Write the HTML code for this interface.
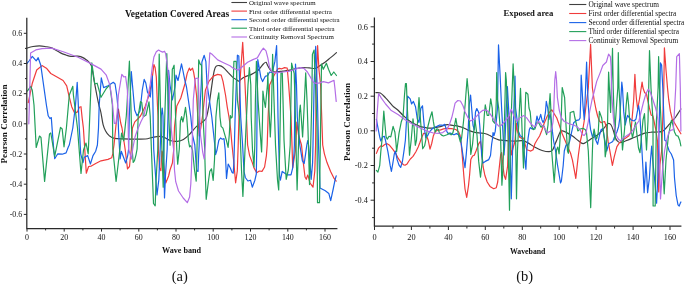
<!DOCTYPE html>
<html><head><meta charset="utf-8"><title>Pearson correlation</title>
<style>
html,body{margin:0;padding:0;background:#fff;}
svg{display:block}
text{font-family:"Liberation Serif",serif;fill:#111}
.tk{font-size:7.5px}
.lg{fill:#111}
.b{font-weight:bold}
</style></head><body>
<svg width="685" height="284" viewBox="0 0 685 284">
<rect width="685" height="284" fill="#fff"/>
<clipPath id="cl"><rect x="27" y="10" width="316" height="218"/></clipPath>
<clipPath id="cr"><rect x="374.5" y="10" width="311" height="216"/></clipPath>
<g clip-path="url(#cl)">
<path d="M27.0,48.1 C28.0,47.8 30.9,46.9 33.0,46.5 C35.1,46.1 37.4,45.8 39.4,45.8 C41.4,45.8 43.0,46.1 45.0,46.5 C47.0,46.9 49.1,46.8 51.7,47.9 C54.3,49.0 58.1,51.7 60.5,52.9 C62.9,54.1 64.2,54.4 66.0,55.0 C67.8,55.6 69.3,56.2 71.0,56.4 C72.7,56.6 74.4,56.2 76.0,56.2 C77.6,56.2 78.9,55.9 80.7,56.6 C82.5,57.3 85.1,58.8 86.9,60.3 C88.7,61.8 90.1,62.4 91.3,65.6 C92.5,68.8 93.0,74.7 93.9,79.6 C94.8,84.5 96.0,90.8 96.8,95.0 C97.6,99.2 98.2,102.1 98.9,105.0 C99.6,107.9 100.2,109.2 100.9,112.5 C101.6,115.8 102.3,121.6 103.1,124.7 C103.9,127.8 104.5,129.1 105.6,131.0 C106.6,132.9 108.0,134.7 109.4,135.9 C110.9,137.1 111.8,137.9 114.3,138.4 C116.8,138.9 120.8,138.8 124.2,138.9 C127.7,139.0 131.4,139.1 135.0,139.1 C138.6,139.1 142.7,139.3 145.6,139.0 C148.5,138.7 150.4,137.7 152.6,137.3 C154.8,136.9 156.9,136.4 158.8,136.4 C160.7,136.4 162.1,136.6 164.0,137.3 C165.9,138.0 168.0,139.8 170.2,140.5 C172.4,141.2 175.0,141.6 177.2,141.4 C179.4,141.2 181.3,140.8 183.4,139.6 C185.5,138.4 187.3,136.5 189.5,134.3 C191.7,132.1 193.9,128.9 196.6,126.4 C199.2,123.9 203.5,122.0 205.4,119.4 C207.3,116.8 207.3,113.8 208.0,110.6 C208.7,107.4 209.1,104.9 209.8,100.0 C210.5,95.1 211.7,86.3 212.4,81.4 C213.1,76.5 213.6,73.3 214.2,70.8 C214.8,68.3 215.1,67.3 216.0,66.4 C216.9,65.5 218.3,65.4 219.5,65.6 C220.7,65.8 221.5,66.1 223.0,67.3 C224.5,68.5 226.6,70.8 228.3,72.6 C230.1,74.4 232.1,76.7 233.5,77.9 C234.9,79.1 236.1,79.4 237.0,79.9 C237.9,80.4 237.6,81.5 238.8,81.0 C240.0,80.5 242.0,78.3 244.0,77.2 C246.0,76.1 248.6,75.8 251.0,74.6 C253.4,73.4 256.1,72.0 258.2,70.2 C260.3,68.4 262.1,65.3 263.4,64.0 C264.7,62.7 265.3,62.0 266.0,62.3 C266.7,62.6 266.9,64.3 267.8,65.8 C268.7,67.3 270.1,70.1 271.4,71.1 C272.7,72.1 273.9,72.0 275.8,72.0 C277.7,72.0 280.5,71.4 282.8,71.1 C285.1,70.8 287.5,70.7 289.8,70.2 C292.1,69.8 294.8,68.8 296.9,68.4 C298.9,68.0 300.1,67.7 302.1,67.6 C304.2,67.5 307.0,67.8 309.2,67.9 C311.4,68.0 313.6,68.8 315.3,68.4 C317.1,68.1 318.1,66.8 319.7,65.8 C321.3,64.8 323.2,63.6 325.0,62.3 C326.8,61.0 328.4,59.5 330.3,57.9 C332.2,56.3 335.5,53.5 336.5,52.6" fill="none" stroke="#404040" stroke-width="1.2" stroke-linejoin="round" stroke-linecap="round"/>
<path d="M28.3,102.6 L32.3,83.2 L36.7,70.0 L42.0,65.6 L46.4,68.2 L50.8,73.5 L57.0,77.0 L63.1,80.5 L66.7,85.8 L68.8,95.0 L71.7,106.7 L74.6,113.1 L77.5,111.9 L79.3,107.3 L81.0,106.7 L82.2,118.4 L83.4,128.0 L84.8,150.0 L86.3,173.2 L88.6,166.5 L91.3,166.1 L95.7,163.5 L101.0,160.8 L108.0,159.4 L111.7,157.8 L112.8,153.7 L113.4,149.0 L114.0,145.0 L116.0,125.0 L118.4,109.0 L120.7,123.0 L122.0,128.0 L125.1,149.0 L127.5,168.9 L129.5,166.5 L130.5,156.0 L131.3,149.0 L132.4,128.0 L134.8,121.9 L137.7,119.0 L140.5,116.0 L145.2,106.4 L148.7,96.0 L151.6,83.0 L153.9,64.6 L155.1,67.5 L156.3,77.0 L157.4,104.0 L158.0,116.0 L158.4,149.0 L159.5,168.0 L160.9,170.6 L161.9,151.0 L162.5,152.5 L164.0,167.0 L165.8,183.0 L168.6,176.0 L170.0,170.0 L172.4,163.0 L173.8,149.0 L174.5,127.0 L175.6,117.0 L176.8,106.0 L180.8,98.0 L184.9,84.0 L187.2,73.4 L189.3,68.1 L190.5,70.4 L192.5,68.1 L193.6,72.2 L194.8,79.2 L196.6,96.0 L197.8,117.0 L199.3,136.0 L200.8,128.0 L202.4,117.0 L205.4,90.2 L208.9,81.4 L213.3,76.1 L217.7,74.4 L221.2,75.2 L223.0,81.4 L225.6,95.5 L227.3,107.4 L229.0,117.0 L230.5,128.0 L232.0,145.0 L233.8,162.0 L235.6,182.8 L237.3,171.0 L238.2,145.0 L239.0,117.0 L239.8,84.0 L242.7,42.4 L245.0,84.0 L246.5,117.0 L247.6,145.0 L249.6,155.6 L252.3,162.6 L254.0,167.9 L256.7,172.8 L259.3,171.0 L262.0,171.4 L264.6,167.0 L266.4,155.6 L267.2,145.0 L268.1,117.0 L269.6,85.0 L274.0,75.5 L277.5,69.3 L279.3,68.4 L281.9,68.8 L284.5,67.6 L287.2,68.0 L288.6,84.0 L291.0,117.0 L292.0,145.0 L292.7,167.9 L295.5,150.0 L296.9,122.0 L298.5,135.0 L301.5,145.0 L303.3,162.6 L305.0,177.0 L306.3,179.3 L307.7,175.0 L308.6,177.5 L310.0,183.0 L313.0,187.2 L314.8,171.0 L315.6,145.0 L316.2,85.0 L317.6,45.6 L319.0,70.0 L320.6,85.0 L322.7,145.0 L324.4,153.8 L327.0,162.6 L330.6,171.4 L334.1,178.4 L336.2,181.1" fill="none" stroke="#f03c3c" stroke-width="1.2" stroke-linejoin="round" stroke-linecap="round"/>
<path d="M27.0,63.5 L29.0,61.0 L32.3,56.4 L36.2,60.8 L38.2,57.7 L40.8,65.3 L46.4,105.0 L48.2,115.8 L49.9,118.5 L51.3,117.6 L52.6,135.2 L53.8,150.0 L54.7,158.7 L57.8,153.8 L62.2,154.2 L66.1,152.9 L68.4,146.8 L69.3,145.0 L72.8,128.0 L75.5,105.0 L77.2,82.3 L78.1,100.0 L79.3,128.0 L80.7,153.8 L83.0,162.6 L84.2,157.3 L87.7,155.6 L90.4,164.0 L93.0,155.6 L95.7,151.2 L97.4,145.0 L98.5,128.0 L99.2,105.0 L101.3,77.9 L103.6,87.6 L108.0,85.8 L113.3,82.3 L115.1,84.0 L116.8,95.5 L117.7,105.0 L118.5,130.0 L120.1,158.9 L121.3,151.3 L123.8,158.0 L125.7,163.0 L127.7,155.6 L128.6,149.0 L129.3,116.0 L131.3,71.6 L132.3,83.0 L134.7,110.0 L137.0,115.7 L140.0,111.0 L142.3,90.0 L144.2,79.4 L145.8,83.0 L147.5,92.3 L150.3,97.0 L152.3,76.0 L152.9,103.0 L153.7,149.0 L156.0,182.0 L157.0,195.0 L158.8,180.0 L160.2,149.0 L161.3,116.0 L162.2,108.0 L163.0,116.0 L163.6,149.0 L164.5,198.0 L165.5,175.0 L167.2,149.0 L168.0,116.0 L168.6,70.4 L170.0,85.0 L171.3,93.0 L172.4,100.0 L173.8,93.0 L175.0,87.0 L176.0,75.2 L178.0,80.5 L179.5,73.7 L181.5,63.8 L183.0,71.0 L184.7,79.6 L186.5,87.0 L190.8,117.0 L192.5,135.0 L194.8,145.0 L196.6,170.5 L198.0,171.4 L198.7,154.0 L199.2,145.0 L199.5,117.0 L201.3,84.0 L201.9,62.0 L204.2,55.3 L205.9,61.7 L207.0,84.0 L209.6,101.5 L211.8,117.0 L215.3,150.0 L215.6,154.7 L217.0,150.0 L218.8,140.4 L220.5,138.0 L222.3,139.2 L224.0,138.6 L225.2,150.0 L226.5,178.4 L228.2,164.0 L230.3,168.0 L232.0,172.3 L233.2,173.2 L233.9,162.6 L234.4,145.0 L235.1,117.0 L236.3,84.0 L237.4,55.2 L238.8,56.0 L239.7,85.0 L240.7,117.0 L242.6,145.0 L244.0,171.4 L245.3,177.5 L247.9,181.0 L250.5,180.2 L252.3,187.2 L254.9,180.2 L256.3,174.0 L256.8,145.0 L257.0,117.0 L257.8,59.6 L260.8,77.2 L262.6,81.6 L265.2,76.4 L267.8,75.5 L269.6,72.0 L272.2,72.8 L274.9,61.4 L276.6,45.6 L277.5,84.0 L278.0,117.0 L278.7,145.0 L279.6,176.0 L280.4,180.2 L282.2,171.4 L284.8,173.2 L287.5,174.9 L291.0,174.9 L292.7,167.9 L294.0,153.8 L294.4,145.0 L294.8,100.0 L295.5,64.0 L296.5,85.0 L297.3,117.0 L299.8,145.0 L302.4,160.8 L304.2,163.5 L305.6,153.8 L306.8,145.0 L307.7,140.5 L308.6,145.0 L309.8,160.0 L311.2,179.3 L312.6,162.6 L313.0,145.0 L314.1,85.0 L315.7,46.4 L317.1,85.0 L318.5,145.0 L320.0,188.0 L325.3,190.8 L328.8,193.4 L330.7,200.6 L333.2,189.0 L335.0,180.2 L336.2,175.8" fill="none" stroke="#1a62e8" stroke-width="1.2" stroke-linejoin="round" stroke-linecap="round"/>
<path d="M27.5,91.0 L30.6,86.3 L32.3,90.2 L34.0,105.0 L36.2,147.5 L39.5,136.0 L41.0,137.5 L44.6,181.4 L49.5,134.0 L50.8,133.0 L54.7,156.4 L60.5,127.3 L62.2,129.0 L64.0,146.8 L66.4,128.0 L69.3,95.0 L72.8,86.3 L73.4,95.0 L77.5,128.0 L81.0,173.5 L83.5,150.0 L86.0,143.0 L88.2,153.8 L89.3,128.0 L90.6,95.0 L91.8,62.9 L94.8,84.0 L97.1,83.2 L101.0,97.3 L106.3,88.5 L109.8,84.9 L112.4,105.0 L112.8,149.0 L116.1,181.5 L119.9,149.0 L121.6,133.0 L123.7,140.8 L126.3,116.0 L127.0,105.0 L129.4,61.2 L130.9,105.0 L132.1,149.0 L133.2,162.5 L134.5,160.7 L136.0,154.8 L137.1,149.0 L138.2,116.0 L140.5,101.7 L141.7,102.3 L143.4,116.7 L146.0,115.0 L149.0,101.8 L150.2,116.0 L151.4,149.0 L153.5,203.5 L155.2,205.8 L156.0,182.0 L157.8,149.0 L159.2,54.1 L160.7,116.0 L161.9,149.0 L163.2,187.2 L164.0,149.0 L164.8,116.0 L166.8,53.5 L168.0,100.0 L170.1,145.2 L171.2,116.0 L172.3,69.3 L173.2,67.5 L174.1,65.2 L175.6,117.0 L176.8,150.0 L177.7,164.2 L179.3,149.0 L180.4,121.0 L181.6,116.7 L182.9,122.0 L184.0,116.7 L185.5,107.4 L186.7,117.0 L188.4,140.4 L189.6,146.8 L190.8,145.6 L192.5,150.0 L194.5,170.0 L196.2,181.1 L197.0,149.0 L197.8,117.0 L198.7,59.9 L200.1,64.0 L201.5,65.2 L202.3,84.0 L203.0,117.0 L204.5,145.0 L205.5,180.0 L206.2,199.3 L208.6,180.0 L209.8,171.4 L211.5,168.8 L213.2,180.3 L214.5,160.0 L215.9,117.0 L217.5,100.0 L218.8,92.8 L220.0,117.0 L221.1,126.3 L222.9,128.1 L226.4,140.4 L228.1,147.4 L229.3,134.5 L230.3,115.5 L231.3,118.0 L232.2,117.0 L233.2,84.0 L233.9,61.4 L236.2,61.4 L237.4,100.0 L239.5,117.0 L241.5,170.0 L242.9,196.4 L245.0,150.0 L246.5,117.0 L248.0,85.0 L249.4,67.6 L250.8,85.0 L251.2,117.0 L252.5,150.0 L254.0,167.0 L254.8,145.0 L255.4,100.0 L256.4,61.4 L258.0,100.0 L260.0,130.0 L261.6,152.0 L262.5,120.0 L262.9,91.0 L264.3,101.5 L265.4,107.4 L266.4,95.7 L267.5,84.0 L267.8,72.8 L269.0,110.0 L270.3,137.0 L271.5,112.0 L272.6,54.4 L274.0,100.0 L275.5,145.0 L277.5,180.0 L278.7,189.9 L279.8,145.0 L280.5,100.0 L281.0,72.8 L282.3,72.8 L283.0,100.0 L284.0,140.0 L286.2,179.3 L288.3,170.0 L290.2,145.0 L290.9,100.0 L291.6,63.2 L294.2,73.7 L295.0,100.0 L296.0,145.0 L297.1,189.9 L298.5,145.0 L299.5,112.0 L300.3,105.0 L301.3,118.0 L302.6,137.0 L304.0,110.0 L305.7,72.8 L307.0,100.0 L308.0,130.0 L309.5,184.6 L310.7,145.0 L311.8,100.0 L312.4,54.4 L314.1,50.0 L315.5,85.0 L317.0,128.0 L317.5,202.7 L319.5,202.7 L320.3,145.0 L321.5,64.0 L323.3,69.3 L326.4,63.2 L328.5,69.3 L331.2,75.5 L333.8,72.0 L336.5,75.5" fill="none" stroke="#22a05a" stroke-width="1.2" stroke-linejoin="round" stroke-linecap="round"/>
<path d="M28.8,123.8 L29.5,100.0 L30.6,53.0 L35.8,49.9 L42.0,48.6 L51.7,48.1 L64.0,52.0 L78.1,57.3 L90.4,63.4 L101.0,69.1 L106.3,75.2 L109.8,84.9 L111.4,95.0 L112.4,102.5 L114.3,123.3 L116.0,123.3 L117.2,112.0 L118.4,95.0 L121.8,74.4 L123.9,77.0 L125.6,76.5 L127.4,90.2 L128.0,116.0 L128.6,149.0 L131.5,159.0 L132.7,149.0 L135.0,137.0 L137.4,130.0 L140.9,121.8 L143.8,116.0 L147.5,99.0 L150.4,83.0 L152.2,67.5 L153.9,57.0 L156.3,51.8 L158.6,50.0 L161.0,51.4 L162.7,52.1 L164.5,51.2 L165.6,53.5 L166.8,61.7 L168.0,71.0 L169.1,83.0 L170.0,116.0 L172.3,139.0 L173.6,149.0 L174.5,170.0 L175.7,181.7 L178.5,191.0 L183.2,198.0 L187.3,202.7 L189.6,197.0 L190.8,184.0 L191.4,170.0 L192.2,145.0 L193.3,100.0 L195.2,78.6 L198.3,78.0 L199.0,100.0 L200.5,135.0 L202.7,152.0 L204.2,159.0 L205.4,145.0 L206.5,100.0 L208.8,70.0 L209.8,52.8 L212.4,54.6 L217.7,59.9 L223.0,62.5 L230.0,65.8 L233.5,68.4 L238.0,70.2 L242.3,66.7 L247.6,62.3 L252.9,59.6 L257.3,57.9 L260.8,51.7 L263.4,48.2 L266.0,50.8 L267.8,57.9 L269.6,67.6 L272.2,72.0 L275.8,72.8 L282.8,72.0 L289.8,71.1 L295.1,69.3 L300.4,67.6 L303.9,68.4 L307.4,72.0 L311.0,78.1 L313.6,82.5 L316.2,83.4 L319.7,82.9 L323.3,81.6 L328.5,82.9 L334.0,80.3 L335.0,89.0 L336.2,101.4" fill="none" stroke="#b46ee6" stroke-width="1.2" stroke-linejoin="round" stroke-linecap="round"/>
</g>
<g clip-path="url(#cr)">
<path d="M375.9,92.6 C376.6,92.7 378.7,92.2 380.3,93.1 C381.9,94.0 383.6,95.8 385.6,97.9 C387.7,100.0 390.6,103.8 392.6,105.8 C394.6,107.8 396.1,108.4 397.8,110.0 C399.5,111.6 401.1,113.5 403.0,115.3 C404.9,117.0 406.9,119.0 408.9,120.5 C410.8,122.0 412.8,123.0 414.7,124.0 C416.6,125.0 418.7,126.0 420.6,126.6 C422.6,127.2 424.6,127.5 426.4,127.8 C428.1,128.1 429.6,128.2 431.1,128.1 C432.7,128.0 434.1,127.8 435.7,127.5 C437.2,127.2 438.9,127.0 440.4,126.6 C441.9,126.2 443.4,125.4 444.7,125.1 C446.0,124.8 446.8,124.5 448.2,124.6 C449.6,124.6 451.1,125.1 452.8,125.4 C454.6,125.7 456.9,125.9 458.7,126.3 C460.5,126.7 461.8,127.2 463.4,127.8 C464.9,128.4 466.2,129.4 468.0,130.1 C469.8,130.8 471.9,131.6 473.9,132.1 C475.8,132.6 477.9,132.8 479.7,133.0 C481.5,133.2 483.1,133.1 484.7,133.5 C486.3,133.9 487.8,134.4 489.3,135.2 C490.9,135.9 492.4,137.2 494.0,138.0 C495.6,138.8 497.1,139.4 498.7,139.8 C500.2,140.2 500.8,140.1 503.3,140.3 C505.8,140.5 510.7,141.1 513.9,141.2 C517.1,141.2 520.4,140.3 522.7,140.6 C525.1,140.9 526.0,141.8 528.0,142.9 C530.0,144.0 532.6,146.0 535.0,147.3 C537.4,148.6 539.8,149.8 542.1,150.5 C544.5,151.2 547.4,151.8 549.1,151.7 C550.9,151.6 551.5,151.4 552.6,150.0 C553.7,148.6 554.6,145.1 555.5,143.0 C556.4,140.9 557.0,139.4 557.8,137.5 C558.6,135.6 559.5,132.9 560.3,131.8 C561.1,130.7 561.5,130.7 562.6,130.8 C563.7,130.9 565.1,131.7 566.7,132.6 C568.4,133.5 570.5,134.7 572.5,136.1 C574.5,137.5 576.6,139.5 578.4,140.8 C580.1,142.1 581.6,143.5 583.0,143.7 C584.4,143.9 584.9,142.9 586.5,141.9 C588.1,140.9 590.4,139.2 592.4,137.9 C594.4,136.7 596.5,135.8 598.2,134.4 C600.0,133.0 601.5,131.3 602.9,129.7 C604.3,128.1 605.4,126.1 606.4,125.0 C607.4,123.9 607.9,123.3 608.7,123.3 C609.5,123.3 610.3,123.8 611.1,125.0 C611.9,126.2 612.7,128.7 613.4,130.8 C614.1,133.0 614.7,136.1 615.5,137.9 C616.3,139.8 617.4,141.1 618.4,141.9 C619.4,142.7 620.1,142.7 621.4,142.5 C622.7,142.3 624.2,141.5 626.0,140.8 C627.8,140.1 629.8,139.3 631.9,138.4 C634.0,137.5 636.8,136.4 638.9,135.5 C641.0,134.6 642.6,133.8 644.7,133.2 C646.8,132.6 649.6,132.4 651.7,132.2 C653.9,132.0 655.9,132.1 657.6,132.0 C659.4,131.9 660.9,132.0 662.2,131.4 C663.6,130.8 664.5,129.7 665.7,128.5 C666.9,127.3 668.0,125.8 669.2,124.4 C670.4,123.0 671.7,121.4 672.7,120.3 C673.7,119.2 674.2,119.0 675.0,118.0 C675.8,117.0 676.4,115.8 677.4,114.3 C678.4,112.8 680.3,109.9 680.9,109.0" fill="none" stroke="#404040" stroke-width="1.2" stroke-linejoin="round" stroke-linecap="round"/>
<path d="M376.4,153.4 L378.5,148.2 L380.8,145.8 L382.6,146.4 L384.4,144.7 L386.7,143.5 L389.6,145.3 L392.5,148.8 L395.4,152.8 L398.4,158.7 L401.3,162.8 L403.6,164.8 L405.4,165.1 L407.1,163.9 L408.9,161.0 L410.6,158.7 L413.0,156.4 L415.9,151.7 L418.2,147.0 L420.0,142.3 L421.5,138.0 L423.5,133.4 L425.2,133.4 L427.0,137.0 L428.2,140.0 L430.0,149.1 L431.7,143.5 L433.4,135.7 L435.2,131.6 L438.1,129.9 L440.0,130.1 L443.5,128.9 L447.0,128.4 L451.7,128.6 L455.8,129.5 L458.7,131.9 L460.1,135.4 L461.0,142.0 L462.0,152.6 L463.8,175.5 L465.0,189.0 L466.7,197.5 L468.5,185.6 L469.6,175.0 L470.8,159.6 L472.6,156.0 L474.3,155.2 L476.1,150.8 L478.7,143.8 L480.5,141.2 L481.9,152.6 L483.1,166.7 L484.9,175.5 L487.2,182.0 L490.0,186.4 L493.7,188.7 L496.3,187.7 L497.7,182.0 L498.9,171.0 L500.7,154.4 L501.6,152.6 L503.0,166.7 L504.2,175.5 L505.6,179.4 L507.6,166.0 L509.5,116.0 L511.3,155.0 L513.3,147.0 L515.0,141.5 L516.4,123.0 L517.4,131.4 L519.7,137.2 L522.0,138.4 L523.8,138.0 L525.0,143.8 L526.7,149.7 L528.5,150.3 L530.8,151.1 L533.1,149.7 L534.9,143.8 L537.2,139.8 L539.6,136.0 L541.9,130.2 L544.2,123.2 L547.2,116.2 L550.0,111.5 L551.8,109.8 L554.2,113.8 L556.8,118.0 L559.7,126.2 L562.0,133.2 L565.5,141.4 L568.4,148.4 L570.5,153.0 L572.5,160.3 L574.2,169.6 L575.8,178.4 L577.2,165.5 L578.4,155.0 L580.1,142.5 L582.4,132.0 L584.2,121.0 L586.0,106.0 L588.3,88.0 L590.6,44.4 L592.4,88.0 L594.1,99.7 L595.9,109.0 L597.6,116.0 L599.4,121.0 L601.0,122.7 L603.0,122.0 L604.6,121.5 L606.4,127.3 L608.1,141.4 L609.9,151.0 L611.0,157.3 L612.4,165.5 L614.1,157.3 L615.9,150.3 L616.9,146.6 L619.2,143.1 L622.2,140.8 L625.1,138.4 L628.6,136.1 L630.9,132.0 L631.9,121.0 L633.7,100.0 L634.9,74.3 L635.6,88.0 L636.5,99.7 L637.7,109.0 L639.4,99.7 L641.2,88.0 L642.1,82.2 L643.0,88.0 L644.7,92.7 L646.5,93.8 L647.6,99.7 L649.4,107.9 L651.1,114.9 L652.9,116.0 L654.0,121.0 L655.8,129.7 L657.5,141.4 L658.7,192.0 L659.9,165.0 L661.6,151.0 L662.8,118.0 L663.8,88.0 L664.4,47.9 L666.0,70.0 L667.5,88.0 L668.7,99.7 L670.4,111.4 L672.2,119.0 L675.0,123.8 L678.0,129.0 L680.9,133.8" fill="none" stroke="#f03c3c" stroke-width="1.2" stroke-linejoin="round" stroke-linecap="round"/>
<path d="M376.4,119.3 L377.9,127.5 L379.7,136.9 L380.8,141.0 L382.6,136.9 L384.4,136.3 L385.5,140.4 L387.9,151.7 L390.2,165.7 L391.4,171.5 L392.8,163.4 L394.3,154.0 L395.4,151.1 L397.2,159.9 L399.0,165.1 L400.7,167.4 L402.5,161.0 L404.2,149.3 L405.4,140.0 L407.1,110.0 L407.6,96.1 L410.2,98.8 L411.6,104.0 L413.4,101.4 L415.5,106.7 L417.3,119.0 L419.0,122.5 L420.8,108.4 L422.5,105.8 L423.5,118.0 L424.6,130.0 L425.8,138.0 L427.6,135.7 L429.3,132.2 L431.7,129.3 L434.0,127.5 L436.9,126.4 L439.2,125.2 L441.6,125.0 L442.9,125.4 L444.7,124.3 L445.8,127.8 L447.0,131.9 L448.8,134.2 L450.5,133.0 L452.3,134.2 L454.0,134.8 L456.4,133.6 L458.7,134.8 L460.4,138.0 L461.6,146.0 L462.9,155.0 L465.0,167.6 L466.4,152.6 L468.2,130.0 L469.2,105.0 L470.6,95.2 L471.8,110.0 L473.0,125.0 L474.3,130.0 L475.5,112.0 L476.8,108.5 L478.5,112.0 L479.7,125.0 L480.5,135.0 L481.7,155.6 L482.9,163.1 L485.3,161.4 L488.8,159.6 L490.5,155.5 L491.7,143.8 L492.6,138.0 L493.0,132.5 L494.0,135.5 L495.2,131.4 L496.4,119.7 L497.5,108.0 L498.5,44.9 L500.1,75.0 L501.6,108.0 L503.4,141.0 L504.0,155.0 L505.0,141.0 L506.3,108.0 L507.4,86.7 L508.6,108.0 L509.7,141.0 L511.3,198.8 L512.8,141.0 L513.9,108.0 L515.0,76.2 L515.6,108.0 L518.5,131.4 L520.3,136.0 L522.0,136.6 L523.2,141.0 L524.4,155.0 L525.9,169.3 L526.8,150.0 L528.1,138.2 L529.4,129.4 L530.3,127.6 L532.1,129.0 L533.8,128.5 L535.1,126.8 L536.0,122.0 L537.0,116.2 L538.2,120.8 L539.3,119.1 L540.7,114.4 L541.9,119.7 L543.1,122.6 L544.2,119.7 L545.4,112.7 L546.3,101.3 L547.7,108.0 L548.9,119.7 L550.0,113.8 L551.2,119.7 L552.4,131.4 L553.6,141.0 L555.4,150.0 L557.5,165.0 L560.5,183.0 L561.4,181.0 L563.2,165.5 L564.3,151.0 L566.1,144.9 L567.8,145.4 L569.6,141.4 L571.4,133.2 L573.7,122.7 L576.6,120.3 L579.0,119.8 L580.1,118.0 L580.7,100.0 L581.2,75.2 L582.0,88.0 L583.0,105.5 L584.2,119.5 L585.1,100.0 L586.6,62.0 L587.5,88.0 L588.3,105.5 L589.5,121.0 L590.6,129.7 L592.4,136.7 L594.1,133.2 L595.3,139.0 L597.6,144.3 L599.4,135.5 L601.1,129.7 L602.9,128.5 L604.0,135.5 L605.8,146.0 L606.7,151.0 L608.7,143.7 L611.1,142.5 L612.8,141.4 L614.6,136.7 L616.9,132.0 L618.7,126.2 L619.8,118.0 L620.8,100.0 L621.8,82.2 L622.5,88.0 L623.7,111.4 L625.2,125.0 L626.5,119.0 L627.6,115.4 L629.5,118.0 L631.3,120.0 L634.2,121.0 L636.0,119.0 L637.4,111.4 L638.6,105.5 L639.5,111.4 L640.2,121.0 L641.8,148.0 L643.0,169.0 L644.1,192.6 L645.2,175.0 L645.9,162.0 L646.7,175.0 L647.6,192.6 L649.4,178.0 L650.5,160.0 L651.7,146.0 L652.7,160.0 L654.5,178.0 L656.6,203.1 L657.8,178.0 L658.5,151.0 L659.3,121.0 L660.4,62.9 L661.6,65.0 L662.8,88.0 L664.0,121.0 L664.8,140.2 L666.3,141.4 L667.5,146.0 L669.2,151.0 L671.3,154.0 L673.6,160.0 L674.5,178.0 L676.2,195.5 L678.0,204.9 L679.2,206.0 L680.3,203.1 L680.9,202.0" fill="none" stroke="#1a62e8" stroke-width="1.2" stroke-linejoin="round" stroke-linecap="round"/>
<path d="M376.4,170.4 L377.9,172.1 L379.7,165.7 L380.8,151.7 L382.0,140.0 L383.8,111.0 L385.0,125.0 L386.1,136.9 L387.3,139.2 L389.0,136.3 L390.8,136.9 L393.1,126.4 L394.9,132.2 L396.0,143.0 L396.6,151.7 L397.8,143.0 L399.0,133.4 L401.3,121.7 L403.0,117.0 L404.5,95.0 L405.5,83.6 L406.4,83.6 L407.2,105.0 L408.3,127.5 L409.5,155.2 L411.2,140.0 L413.0,118.8 L414.1,127.5 L415.3,145.3 L416.5,140.0 L418.2,110.0 L419.0,97.5 L420.5,120.0 L422.7,148.8 L424.6,145.8 L425.8,140.0 L427.5,128.0 L430.0,118.0 L432.0,111.8 L433.4,121.7 L435.2,132.2 L436.9,128.7 L438.1,129.3 L439.8,133.4 L441.6,135.1 L443.5,136.0 L447.0,134.8 L449.3,133.0 L451.1,134.8 L452.8,133.0 L454.0,128.4 L455.8,118.4 L456.9,124.9 L458.1,133.0 L459.3,138.0 L460.4,142.0 L461.6,138.0 L463.4,122.5 L465.1,105.0 L467.1,78.5 L468.7,96.1 L469.5,125.0 L470.8,154.4 L472.6,143.8 L473.4,135.0 L474.5,125.0 L475.0,120.0 L475.8,126.0 L477.0,135.0 L478.7,161.4 L480.5,177.2 L482.2,161.4 L483.1,135.0 L484.3,115.0 L485.3,104.8 L487.2,115.3 L488.8,115.3 L490.7,98.9 L492.2,108.0 L492.8,120.8 L494.6,123.2 L495.8,113.8 L496.3,100.0 L496.7,72.6 L497.5,100.0 L498.7,108.0 L500.4,131.0 L501.9,185.2 L502.8,171.0 L504.0,138.0 L505.0,100.0 L505.6,72.6 L506.3,80.0 L507.4,108.0 L508.1,141.0 L509.5,210.2 L510.4,141.0 L511.5,108.0 L513.1,63.8 L513.9,80.0 L515.0,108.0 L515.8,150.0 L516.5,198.8 L517.5,150.0 L519.5,108.0 L520.5,88.4 L521.3,108.0 L522.4,140.0 L523.5,168.0 L524.6,140.0 L525.2,108.0 L525.8,92.3 L527.9,94.3 L529.0,108.0 L530.2,112.0 L531.4,125.5 L533.1,129.6 L534.9,129.0 L536.0,125.5 L537.2,122.0 L539.0,123.2 L540.7,126.7 L541.3,127.2 L542.5,125.5 L544.0,126.0 L545.5,131.0 L546.6,134.7 L548.0,125.0 L549.0,108.0 L550.1,93.5 L550.8,108.0 L551.6,150.0 L554.2,182.5 L556.5,150.0 L557.8,147.0 L559.1,153.8 L560.3,135.0 L561.2,118.0 L562.2,87.5 L564.6,97.5 L565.6,118.0 L567.5,151.0 L568.4,153.3 L569.2,140.0 L570.2,112.5 L573.7,111.4 L574.9,118.0 L576.6,125.0 L577.8,131.0 L580.1,129.0 L583.0,128.3 L585.4,129.7 L586.5,132.6 L588.3,151.0 L590.7,207.6 L592.4,151.0 L593.0,136.0 L594.1,129.0 L595.3,135.5 L596.5,139.0 L598.2,133.0 L599.4,111.4 L601.7,118.0 L604.6,141.0 L605.2,156.8 L606.2,151.0 L607.6,121.0 L608.6,72.0 L610.6,112.5 L612.5,48.4 L613.2,88.0 L614.3,121.0 L614.9,140.0 L615.5,121.0 L617.8,88.0 L618.3,52.7 L619.0,88.0 L620.8,121.0 L622.5,150.0 L624.5,130.0 L626.2,105.0 L627.4,92.7 L628.6,105.0 L629.7,121.0 L632.5,138.0 L635.5,122.0 L638.5,148.0 L640.0,152.7 L643.0,120.0 L644.5,113.7 L646.5,150.0 L648.0,121.0 L649.5,50.6 L651.0,88.0 L653.0,121.0 L653.1,206.0 L655.2,206.0 L656.4,121.0 L658.1,88.0 L658.6,56.7 L659.5,88.0 L661.0,121.0 L662.5,160.0 L664.2,193.8 L666.0,160.0 L668.5,135.0 L671.5,120.0 L672.7,124.0 L674.5,132.0 L676.2,135.5 L678.0,136.1 L679.7,140.2 L680.9,146.0" fill="none" stroke="#22a05a" stroke-width="1.2" stroke-linejoin="round" stroke-linecap="round"/>
<path d="M376.2,131.0 L377.0,115.0 L378.6,93.5 L381.2,97.9 L385.6,104.0 L390.9,110.2 L398.4,114.7 L405.4,119.9 L412.4,124.0 L418.2,126.9 L422.9,129.3 L428.7,131.6 L433.4,133.0 L438.1,133.4 L442.7,132.6 L446.4,130.1 L449.3,124.9 L451.7,117.8 L453.4,110.8 L455.1,103.2 L457.8,100.5 L460.4,101.0 L463.0,105.8 L465.1,112.0 L468.0,117.8 L470.4,121.0 L473.3,119.6 L476.2,116.7 L479.7,112.8 L482.9,110.3 L485.8,109.8 L488.8,112.1 L491.7,116.2 L495.2,122.0 L498.7,126.1 L501.0,125.5 L503.4,123.2 L506.3,119.7 L508.6,116.8 L510.4,111.5 L511.3,109.2 L512.7,112.7 L514.5,117.3 L516.8,121.4 L519.7,117.9 L523.8,115.6 L526.7,117.9 L529.6,122.0 L532.6,125.5 L534.9,126.7 L536.6,124.4 L538.4,121.4 L540.1,122.6 L541.9,125.5 L543.7,126.1 L545.4,129.6 L547.2,133.1 L548.9,131.9 L550.7,131.4 L551.8,128.4 L553.0,122.0 L553.6,113.8 L554.8,80.0 L555.7,71.7 L556.5,80.0 L557.4,97.6 L559.2,110.0 L561.4,118.0 L564.3,121.5 L569.0,123.8 L573.7,125.0 L577.2,126.8 L580.1,129.7 L582.4,134.4 L584.2,135.5 L585.9,133.2 L587.1,127.3 L588.3,121.5 L589.6,112.0 L592.0,100.0 L594.6,90.0 L596.7,81.4 L600.2,72.6 L602.8,65.5 L606.4,62.0 L608.6,54.1 L610.4,56.7 L611.1,66.4 L611.8,95.0 L613.4,118.0 L614.6,127.3 L616.3,135.5 L618.7,139.6 L621.0,140.8 L623.3,137.9 L626.2,136.1 L629.7,133.8 L633.3,129.7 L636.0,125.0 L638.9,121.0 L641.2,111.4 L643.5,102.0 L645.9,93.8 L648.2,89.2 L650.5,92.7 L652.9,99.7 L655.2,106.7 L657.0,113.7 L658.1,121.0 L659.3,151.0 L660.5,199.0 L662.5,170.0 L664.6,151.0 L666.3,141.4 L668.7,133.2 L670.4,130.3 L673.3,129.7 L673.9,121.0 L675.7,88.0 L676.7,56.7 L679.4,53.7 L680.3,88.0 L680.9,131.0" fill="none" stroke="#b46ee6" stroke-width="1.2" stroke-linejoin="round" stroke-linecap="round"/>
</g>
<path d="M26.8,18.3 V228.6 H336.8" fill="none" stroke="#2a2a2a" stroke-width="1.25" stroke-linecap="square"/>
<path d="M27.0,228.6 v3.0" stroke="#2a2a2a" stroke-width="1"/>
<text x="27.0" y="239.7" text-anchor="middle" font-size="7.9">0</text>
<path d="M45.6,228.6 v1.8" stroke="#2a2a2a" stroke-width="1"/>
<path d="M64.2,228.6 v3.0" stroke="#2a2a2a" stroke-width="1"/>
<text x="64.2" y="239.7" text-anchor="middle" font-size="7.9">20</text>
<path d="M82.9,228.6 v1.8" stroke="#2a2a2a" stroke-width="1"/>
<path d="M101.5,228.6 v3.0" stroke="#2a2a2a" stroke-width="1"/>
<text x="101.5" y="239.7" text-anchor="middle" font-size="7.9">40</text>
<path d="M120.1,228.6 v1.8" stroke="#2a2a2a" stroke-width="1"/>
<path d="M138.8,228.6 v3.0" stroke="#2a2a2a" stroke-width="1"/>
<text x="138.8" y="239.7" text-anchor="middle" font-size="7.9">60</text>
<path d="M157.4,228.6 v1.8" stroke="#2a2a2a" stroke-width="1"/>
<path d="M176.0,228.6 v3.0" stroke="#2a2a2a" stroke-width="1"/>
<text x="176.0" y="239.7" text-anchor="middle" font-size="7.9">80</text>
<path d="M194.6,228.6 v1.8" stroke="#2a2a2a" stroke-width="1"/>
<path d="M213.2,228.6 v3.0" stroke="#2a2a2a" stroke-width="1"/>
<text x="213.2" y="239.7" text-anchor="middle" font-size="7.9">100</text>
<path d="M231.9,228.6 v1.8" stroke="#2a2a2a" stroke-width="1"/>
<path d="M250.5,228.6 v3.0" stroke="#2a2a2a" stroke-width="1"/>
<text x="250.5" y="239.7" text-anchor="middle" font-size="7.9">120</text>
<path d="M269.1,228.6 v1.8" stroke="#2a2a2a" stroke-width="1"/>
<path d="M287.8,228.6 v3.0" stroke="#2a2a2a" stroke-width="1"/>
<text x="287.8" y="239.7" text-anchor="middle" font-size="7.9">140</text>
<path d="M306.4,228.6 v1.8" stroke="#2a2a2a" stroke-width="1"/>
<path d="M325.0,228.6 v3.0" stroke="#2a2a2a" stroke-width="1"/>
<text x="325.0" y="239.7" text-anchor="middle" font-size="7.9">160</text>
<path d="M26.8,214.4 h-3.0" stroke="#2a2a2a" stroke-width="1"/>
<text x="22.2" y="217.0" text-anchor="end" font-size="7.9">-0.6</text>
<path d="M26.8,199.3 h-1.8" stroke="#2a2a2a" stroke-width="1"/>
<path d="M26.8,184.2 h-3.0" stroke="#2a2a2a" stroke-width="1"/>
<text x="22.2" y="186.8" text-anchor="end" font-size="7.9">-0.4</text>
<path d="M26.8,169.1 h-1.8" stroke="#2a2a2a" stroke-width="1"/>
<path d="M26.8,154.0 h-3.0" stroke="#2a2a2a" stroke-width="1"/>
<text x="22.2" y="156.6" text-anchor="end" font-size="7.9">-0.2</text>
<path d="M26.8,138.9 h-1.8" stroke="#2a2a2a" stroke-width="1"/>
<path d="M26.8,123.8 h-3.0" stroke="#2a2a2a" stroke-width="1"/>
<text x="22.2" y="126.5" text-anchor="end" font-size="7.9">0.0</text>
<path d="M26.8,108.8 h-1.8" stroke="#2a2a2a" stroke-width="1"/>
<path d="M26.8,93.7 h-3.0" stroke="#2a2a2a" stroke-width="1"/>
<text x="22.2" y="96.3" text-anchor="end" font-size="7.9">0.2</text>
<path d="M26.8,78.6 h-1.8" stroke="#2a2a2a" stroke-width="1"/>
<path d="M26.8,63.5 h-3.0" stroke="#2a2a2a" stroke-width="1"/>
<text x="22.2" y="66.1" text-anchor="end" font-size="7.9">0.4</text>
<path d="M26.8,48.4 h-1.8" stroke="#2a2a2a" stroke-width="1"/>
<path d="M26.8,33.3 h-3.0" stroke="#2a2a2a" stroke-width="1"/>
<text x="22.2" y="35.9" text-anchor="end" font-size="7.9">0.6</text>
<path d="M374.4,18.1 V226.2 H680.8" fill="none" stroke="#2a2a2a" stroke-width="1.25" stroke-linecap="square"/>
<path d="M374.5,226.2 v3.8" stroke="#2a2a2a" stroke-width="1"/>
<text x="374.5" y="239.8" text-anchor="middle" font-size="8.3">0</text>
<path d="M393.0,226.2 v2.3" stroke="#2a2a2a" stroke-width="1"/>
<path d="M411.4,226.2 v3.8" stroke="#2a2a2a" stroke-width="1"/>
<text x="411.4" y="239.8" text-anchor="middle" font-size="8.3">20</text>
<path d="M429.9,226.2 v2.3" stroke="#2a2a2a" stroke-width="1"/>
<path d="M448.4,226.2 v3.8" stroke="#2a2a2a" stroke-width="1"/>
<text x="448.4" y="239.8" text-anchor="middle" font-size="8.3">40</text>
<path d="M466.9,226.2 v2.3" stroke="#2a2a2a" stroke-width="1"/>
<path d="M485.3,226.2 v3.8" stroke="#2a2a2a" stroke-width="1"/>
<text x="485.3" y="239.8" text-anchor="middle" font-size="8.3">60</text>
<path d="M503.8,226.2 v2.3" stroke="#2a2a2a" stroke-width="1"/>
<path d="M522.3,226.2 v3.8" stroke="#2a2a2a" stroke-width="1"/>
<text x="522.3" y="239.8" text-anchor="middle" font-size="8.3">80</text>
<path d="M540.7,226.2 v2.3" stroke="#2a2a2a" stroke-width="1"/>
<path d="M559.2,226.2 v3.8" stroke="#2a2a2a" stroke-width="1"/>
<text x="559.2" y="239.8" text-anchor="middle" font-size="8.3">100</text>
<path d="M577.7,226.2 v2.3" stroke="#2a2a2a" stroke-width="1"/>
<path d="M596.1,226.2 v3.8" stroke="#2a2a2a" stroke-width="1"/>
<text x="596.1" y="239.8" text-anchor="middle" font-size="8.3">120</text>
<path d="M614.6,226.2 v2.3" stroke="#2a2a2a" stroke-width="1"/>
<path d="M633.1,226.2 v3.8" stroke="#2a2a2a" stroke-width="1"/>
<text x="633.1" y="239.8" text-anchor="middle" font-size="8.3">140</text>
<path d="M651.5,226.2 v2.3" stroke="#2a2a2a" stroke-width="1"/>
<path d="M670.0,226.2 v3.8" stroke="#2a2a2a" stroke-width="1"/>
<text x="670.0" y="239.8" text-anchor="middle" font-size="8.3">160</text>
<path d="M374.4,217.6 h-2.3" stroke="#2a2a2a" stroke-width="1"/>
<path d="M374.4,200.2 h-3.8" stroke="#2a2a2a" stroke-width="1"/>
<text x="368.0" y="202.9" text-anchor="end" font-size="8.3">-0.4</text>
<path d="M374.4,182.9 h-2.3" stroke="#2a2a2a" stroke-width="1"/>
<path d="M374.4,165.5 h-3.8" stroke="#2a2a2a" stroke-width="1"/>
<text x="368.0" y="168.3" text-anchor="end" font-size="8.3">-0.2</text>
<path d="M374.4,148.2 h-2.3" stroke="#2a2a2a" stroke-width="1"/>
<path d="M374.4,130.8 h-3.8" stroke="#2a2a2a" stroke-width="1"/>
<text x="368.0" y="133.6" text-anchor="end" font-size="8.3">0.0</text>
<path d="M374.4,113.5 h-2.3" stroke="#2a2a2a" stroke-width="1"/>
<path d="M374.4,96.2 h-3.8" stroke="#2a2a2a" stroke-width="1"/>
<text x="368.0" y="98.9" text-anchor="end" font-size="8.3">0.2</text>
<path d="M374.4,78.8 h-2.3" stroke="#2a2a2a" stroke-width="1"/>
<path d="M374.4,61.5 h-3.8" stroke="#2a2a2a" stroke-width="1"/>
<text x="368.0" y="64.2" text-anchor="end" font-size="8.3">0.4</text>
<path d="M374.4,44.1 h-2.3" stroke="#2a2a2a" stroke-width="1"/>
<path d="M374.4,26.8 h-3.8" stroke="#2a2a2a" stroke-width="1"/>
<text x="368.0" y="29.5" text-anchor="end" font-size="8.3">0.6</text>
<clipPath id="cleg"><rect x="200" y="0" width="142.5" height="60"/></clipPath>
<g clip-path="url(#cleg)">
<path d="M231.4,2.5 H247" stroke="#404040" stroke-width="1.1"/>
<text x="249" y="4.9" font-size="6.95" class="lg">Original wave spectrum</text>
<path d="M231.4,11.1 H247" stroke="#f03c3c" stroke-width="1.1"/>
<text x="249" y="13.5" font-size="6.95" class="lg">First order differential spectra</text>
<path d="M231.4,19.7 H247" stroke="#1a62e8" stroke-width="1.1"/>
<text x="249" y="22.1" font-size="6.95" class="lg">Second order differential spectra</text>
<path d="M231.4,28.2 H247" stroke="#22a05a" stroke-width="1.1"/>
<text x="249" y="30.6" font-size="6.95" class="lg">Third order differential spectra</text>
<path d="M231.4,37.0 H247" stroke="#b46ee6" stroke-width="1.1"/>
<text x="249" y="39.4" font-size="6.95" class="lg">Continuity Removal Spectrum</text>
</g>
<path d="M569.2,4.5 H586.3" stroke="#404040" stroke-width="1.1"/>
<text x="588.4" y="7.0" font-size="7.35" class="lg">Original wave spectrum</text>
<path d="M569.2,13.5 H586.3" stroke="#f03c3c" stroke-width="1.1"/>
<text x="588.4" y="16.0" font-size="7.35" class="lg">First order differential spectra</text>
<path d="M569.2,22.6 H586.3" stroke="#1a62e8" stroke-width="1.1"/>
<text x="588.4" y="25.1" font-size="7.35" class="lg">Second order differential spectra</text>
<path d="M569.2,31.6 H586.3" stroke="#22a05a" stroke-width="1.1"/>
<text x="588.4" y="34.1" font-size="7.35" class="lg">Third order differential spectra</text>
<path d="M569.2,40.6 H586.3" stroke="#b46ee6" stroke-width="1.1"/>
<text x="588.4" y="43.1" font-size="7.35" class="lg">Continuity Removal Spectrum</text>
<text x="177" y="17.2" text-anchor="middle" class="b" font-size="9.45">Vegetation Covered Areas</text>
<text x="528.4" y="16.1" text-anchor="middle" class="b" font-size="8.7">Exposed area</text>
<text x="181.6" y="252.9" text-anchor="middle" class="b" font-size="8.15">Wave band</text>
<text x="527.7" y="254.1" text-anchor="middle" class="b" font-size="7.8">Waveband</text>
<text transform="translate(6.6,124) rotate(-90)" text-anchor="middle" class="b" font-size="9.1">Pearson Correlation</text>
<text transform="translate(350.1,122) rotate(-90)" text-anchor="middle" class="b" font-size="8.97">Pearson Correlation</text>
<text x="179.8" y="280.6" text-anchor="middle" font-size="14.5">(a)</text>
<text x="524.7" y="280.6" text-anchor="middle" font-size="14.5">(b)</text>
</svg>
</body></html>
